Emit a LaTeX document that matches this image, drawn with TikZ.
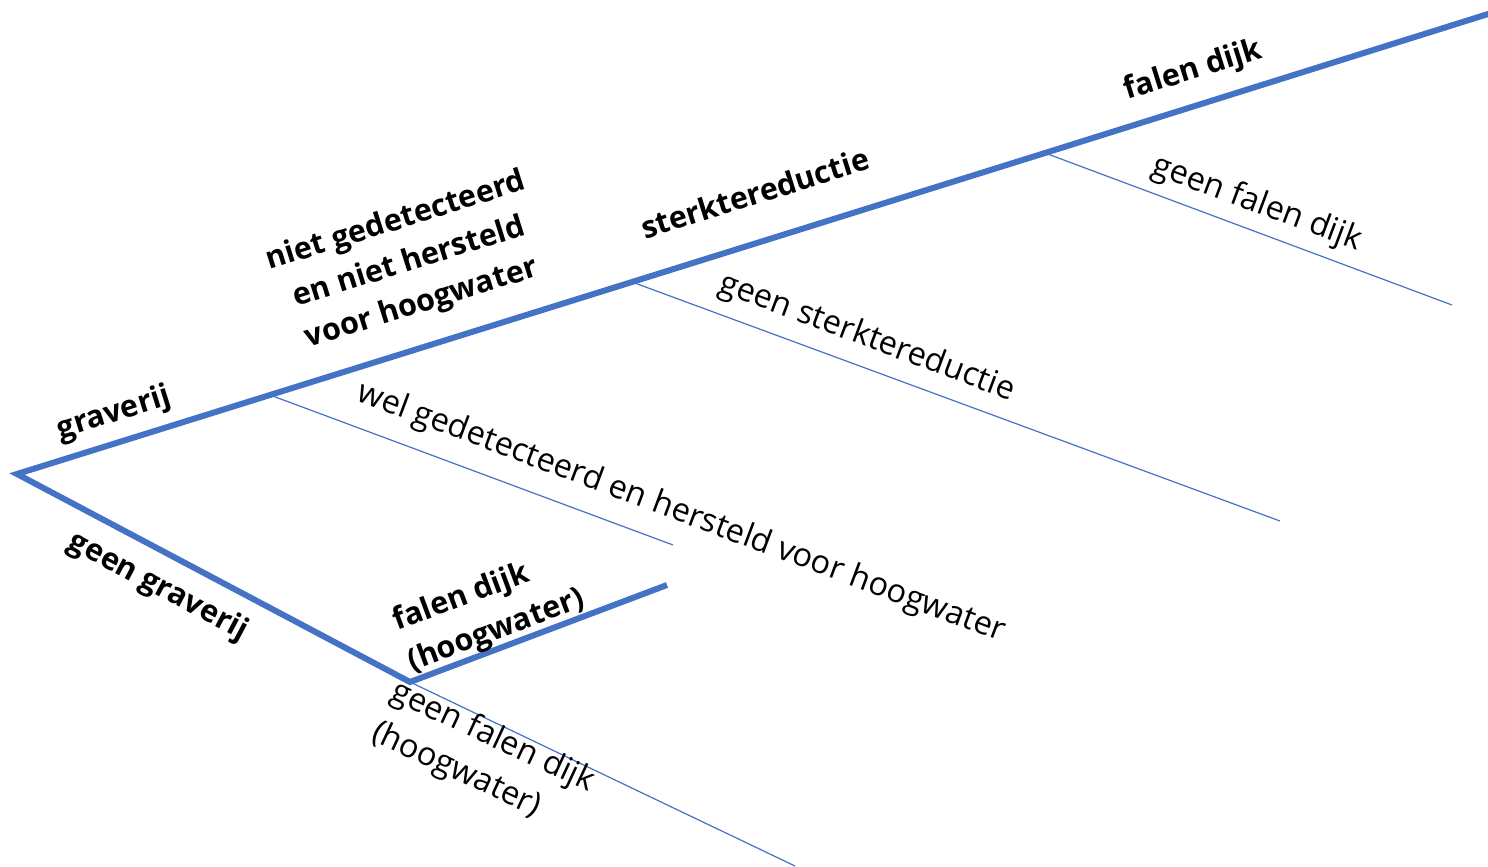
\documentclass[tikz,border=0pt]{standalone}
\usepackage{fontspec}
\setmainfont{Open Sans}
\definecolor{lineblue}{HTML}{4472C4}
\tikzset{
  thickline/.style={draw=lineblue, line width=6pt},
  thinline/.style={draw=lineblue, line width=1.2pt},
  lab/.style={font=\fontsize{32.5}{45}\selectfont, inner sep=0pt},
  blab/.style={font=\fontsize{30.5}{43}\selectfont\bfseries, inner sep=0pt},
}
\begin{document}
\begin{tikzpicture}[x=1pt,y=-1pt]
\useasboundingbox (0,0) rectangle (1488,867);
% nodes (junctions)
\coordinate (root) at (17,474);
\coordinate (j1) at (270,395);
\coordinate (j2) at (632,282);
\coordinate (j3) at (1045,153);
\coordinate (top) at (1490,13.4);
\coordinate (e1) at (673,545);
\coordinate (e2) at (1280,521);
\coordinate (e3) at (1452,305);
\coordinate (j4) at (410,682);
\coordinate (e4) at (667,585);
\coordinate (e5) at (795,866);
% lines
\draw[thickline, line join=miter] (top) -- (j3) -- (j2) -- (j1) -- (root) -- (j4) -- (e4);
\draw[thinline] (j1) -- (e1);
\draw[thinline] (j2) -- (e2);
\draw[thinline] (j3) -- (e3);
\draw[thinline] (j4) -- (e5);
% labels
\node[blab, rotate=17.4] (t1) at (114,414) {graverij};
\node[blab, rotate=17.4, align=center] (t2) at (409,263) {niet gedetecteerd\\en niet hersteld\\voor hoogwater};
\node[blab, rotate=17.4] (t3) at (755,193) {sterktereductie};
\node[blab, rotate=17.4] (t4) at (1193,71) {falen dijk};
\node[lab, rotate=-20.5] (t5) at (1257,204) {geen falen dijk};
\node[lab, rotate=-20.5] (t6) at (867,338) {geen sterktereductie};
\node[lab, rotate=-20.5] (t7) at (681,513) {wel gedetecteerd en hersteld voor hoogwater};
\node[blab, rotate=-28] (t8) at (158,587) {geen graverij};
\node[blab, rotate=20.5, align=left] (t9) at (489,611) {falen dijk\\(hoogwater)};
\node[lab, rotate=-25, align=left] (t10) at (483,758) {geen falen dijk\\(hoogwater)};
\end{tikzpicture}
\end{document}
